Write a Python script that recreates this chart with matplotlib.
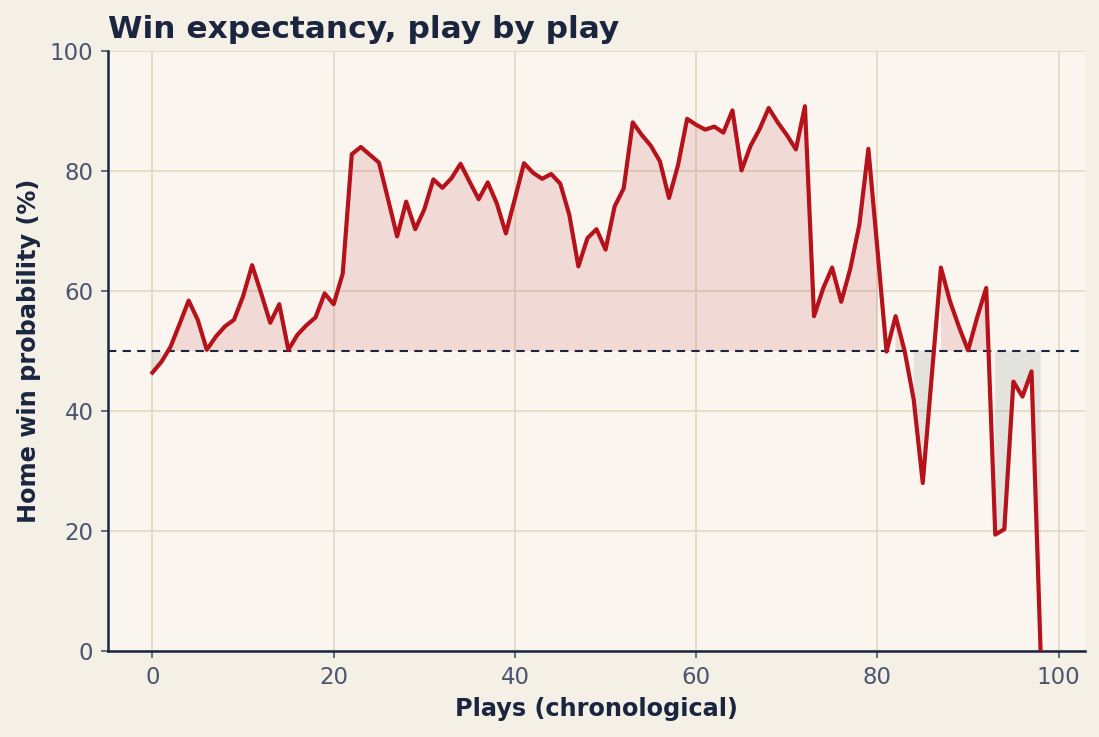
import matplotlib
matplotlib.use("Agg")
import matplotlib.pyplot as plt
import numpy as np

# home win probability (%) after each play
plays = list(range(99))
win_prob = [
    46.4, 48.2, 50.7, 54.5, 58.4, 55.2, 50.2, 52.4, 54.1, 55.2,
    59.1, 64.3, 59.6, 54.7, 57.8, 50.2, 52.7, 54.3, 55.6, 59.6,
    57.8, 62.9, 82.8, 84.0, 82.7, 81.4, 75.3, 69.1, 74.9, 70.3,
    73.6, 78.6, 77.2, 78.8, 81.2, 78.2, 75.3, 78.1, 74.6, 69.6,
    75.4, 81.3, 79.7, 78.7, 79.5, 77.9, 72.7, 64.1, 68.8, 70.3,
    66.9, 74.1, 77.1, 88.1, 86.0, 84.2, 81.6, 75.5, 81.0, 88.7,
    87.7, 86.9, 87.4, 86.4, 90.1, 80.1, 84.2, 87.0, 90.5, 88.1,
    86.0, 83.6, 90.8, 55.8, 60.4, 63.9, 58.2, 63.7, 71.0, 83.7,
    66.9, 49.9, 55.8, 50.0, 41.9, 28.0, 46.0, 63.9, 58.3, 54.0,
    50.1, 55.6, 60.5, 19.4, 20.3, 44.9, 42.4, 46.6, 0.0,
]

navy = "#1a2540"
red = "#b5121b"

fig, ax = plt.subplots(figsize=(1099 / 150, 737 / 150), dpi=150)
fig.patch.set_facecolor("#f5f0e6")
ax.set_facecolor("#faf6ef")

x = np.array(plays)
y = np.array(win_prob)

ax.fill_between(x, y, 50, where=y >= 50, color=red, alpha=0.12, linewidth=0)
ax.fill_between(x, y, 50, where=y < 50, color="#8c9296", alpha=0.2, linewidth=0)
ax.axhline(50, color=navy, linestyle="--", linewidth=1.0, dashes=(4, 3))
ax.plot(x, y, color=red, linewidth=2.0, zorder=3)

ax.set_ylim(0, 100)
ax.set_yticks([0, 20, 40, 60, 80, 100])
ax.set_xticks([0, 20, 40, 60, 80, 100])
ax.grid(True, color="#e0d8c0", linewidth=0.8)
ax.set_axisbelow(True)

for side in ["top", "right"]:
    ax.spines[side].set_visible(False)
for side in ["left", "bottom"]:
    ax.spines[side].set_color(navy)
    ax.spines[side].set_linewidth(1.2)

ax.tick_params(colors="#4a5570", labelsize=11, length=3.5, width=0.8)

ax.set_xlabel("Plays (chronological)", fontsize=11.5, fontweight="bold", color=navy)
ax.set_ylabel("Home win probability (%)", fontsize=11.5, fontweight="bold", color=navy)
ax.set_title("Win expectancy, play by play", loc="left", fontsize=15,
             fontweight="bold", color=navy)

fig.subplots_adjust(left=108 / 1099, right=1085 / 1099, top=1 - 51 / 737, bottom=1 - 651 / 737)
fig.savefig("out.png", dpi=150, facecolor=fig.get_facecolor())
